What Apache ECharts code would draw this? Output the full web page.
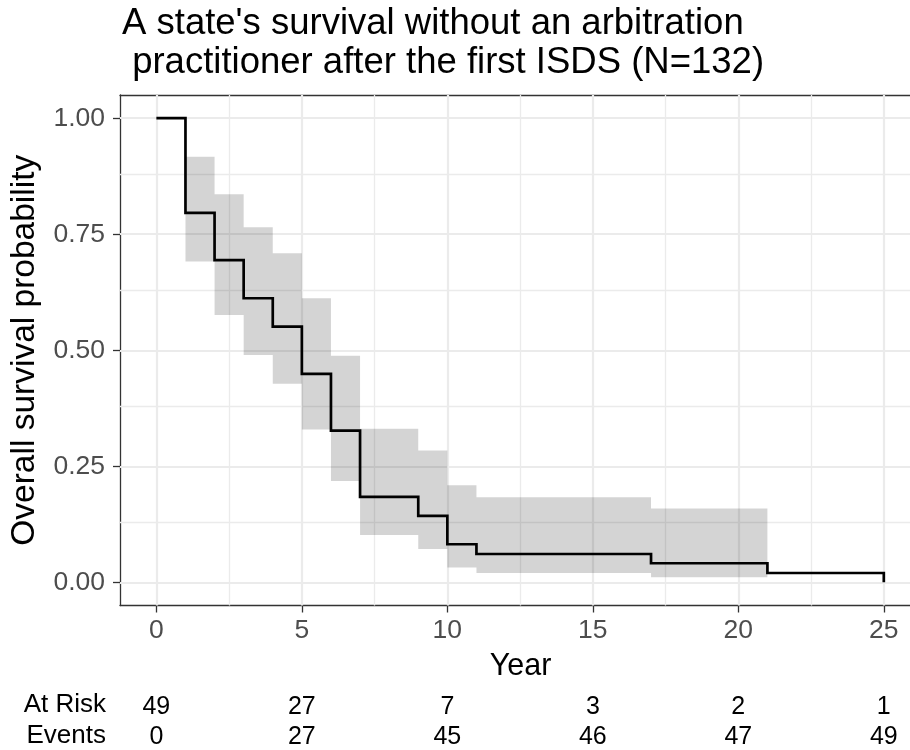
<!DOCTYPE html>
<html>
<head>
<meta charset="utf-8">
<script src="https://cdn.jsdelivr.net/npm/echarts@6/dist/echarts.min.js"></script>
<style>
  html, body { margin: 0; padding: 0; background: #ffffff; }
  #chart { width: 910px; height: 750px; }
</style>
</head>
<body>
<div id="chart"></div>
<script>
// Kaplan-Meier estimate: step times and survival after each step
const eventYear = [0, 1, 2, 3, 4, 5, 6, 7, 9, 10, 11, 17, 21, 25];
const survival  = [1.000, 0.796, 0.694, 0.612, 0.551, 0.449, 0.327, 0.184, 0.143, 0.082, 0.061, 0.041, 0.020, 0.000];
// 95% confidence band for each step interval (null = no band drawn)
const ciUpper = [null, 0.917, 0.836, 0.765, 0.709, 0.612, 0.488, 0.331, 0.284, 0.209, 0.183, 0.159, null, null];
const ciLower = [null, 0.691, 0.576, 0.490, 0.428, 0.329, 0.218, 0.102, 0.072, 0.032, 0.020, 0.011, null, null];

// Risk table
const riskYears = [0, 5, 10, 15, 20, 25];
const atRisk    = [49, 27, 7, 3, 2, 1];
const events    = [0, 27, 45, 46, 47, 49];

// Axis ticks and grid lines
const xTicks = [0, 5, 10, 15, 20, 25];
const xMinor = [2.5, 7.5, 12.5, 17.5, 22.5];
const yTicks = [0, 0.25, 0.5, 0.75, 1];
const yMinor = [0.125, 0.375, 0.625, 0.875];

const FONT = '"Liberation Sans", Arial, Helvetica, sans-serif';
// the panel runs past the right edge of the canvas, so the visible range stops short of 26.25
const X_MIN = -1.25, X_MAX = 25.9;
const FRAME = { color: '#333333', width: 1.3 };

const chart = echarts.init(document.getElementById('chart'), null, { renderer: 'canvas' });

function bandPolygon(params, api) {
  const upper = [];
  const lower = [];
  for (let i = 0; i < eventYear.length - 1; i++) {
    if (ciUpper[i] == null || ciLower[i] == null) continue;
    const x0 = eventYear[i], x1 = eventYear[i + 1];
    upper.push(api.coord([x0, ciUpper[i]]), api.coord([x1, ciUpper[i]]));
    lower.push(api.coord([x0, ciLower[i]]), api.coord([x1, ciLower[i]]));
  }
  const points = upper.concat(lower.reverse());
  return {
    type: 'polygon',
    shape: { points: points },
    style: { fill: 'rgba(0,0,0,0.17)', stroke: null }
  };
}

const gridLine = (color, width) => ({ color: color, width: width, type: 'solid' });

const markLines = []
  .concat(xMinor.map(v => ({ xAxis: v, lineStyle: gridLine('#ebebeb', 1.3) })))
  .concat(yMinor.map(v => ({ yAxis: v, lineStyle: gridLine('#ebebeb', 1.3) })))
  .concat(xTicks.map(v => ({ xAxis: v, lineStyle: gridLine('#ebebeb', 2.2) })))
  .concat(yTicks.map(v => ({ yAxis: v, lineStyle: gridLine('#ebebeb', 2.2) })));

const tableAxis = (values, offset) => ({
  type: 'value',
  gridIndex: 0,
  min: X_MIN,
  max: X_MAX,
  position: 'bottom',
  offset: offset,
  axisLine: { show: false },
  axisTick: { show: false },
  splitLine: { show: false },
  axisLabel: {
    customValues: riskYears,
    margin: 0,
    color: '#000000',
    fontFamily: FONT,
    fontSize: 25,
    formatter: v => String(values[riskYears.indexOf(v)])
  }
});

const option = {
  animation: false,
  backgroundColor: '#ffffff',
  title: {
    text: "A state's survival without an arbitration\n practitioner after the first ISDS (N=132)",
    left: 122,
    top: 4,
    padding: 0,
    textStyle: {
      fontFamily: FONT,
      fontSize: 36.5,
      fontWeight: 'normal',
      color: '#000000',
      lineHeight: 39
    }
  },
  grid: {
    left: 120,
    top: 95,
    right: 0,
    height: 510.5,
    show: true,
    backgroundColor: '#ffffff',
    borderWidth: 0
  },
  xAxis: [
    {
      type: 'value',
      min: X_MIN,
      max: X_MAX,
      name: 'Year',
      nameLocation: 'middle',
      nameGap: 46,
      nameTextStyle: { fontFamily: FONT, fontSize: 30.5, color: '#000000', padding: [0, 0, 0, 11] },
      axisLine: { show: true, onZero: false, lineStyle: FRAME },
      axisTick: {
        show: true,
        customValues: xTicks,
        length: 7,
        lineStyle: FRAME
      },
      axisLabel: {
        customValues: xTicks,
        margin: 12,
        color: '#4d4d4d',
        fontFamily: FONT,
        fontSize: 26.5
      },
      splitLine: { show: false }
    },
    tableAxis(atRisk, 89),
    tableAxis(events, 119.5),
    {
      // top edge of the panel frame
      type: 'value',
      min: X_MIN,
      max: X_MAX,
      position: 'top',
      axisLine: { show: true, onZero: false, lineStyle: FRAME },
      axisTick: { show: false },
      axisLabel: { show: false },
      splitLine: { show: false }
    }
  ],
  yAxis: {
    type: 'value',
    min: -0.05,
    max: 1.05,
    name: 'Overall survival probability',
    nameLocation: 'middle',
    nameRotate: 90,
    nameGap: 78,
    nameTextStyle: { fontFamily: FONT, fontSize: 33.5, color: '#000000' },
    axisLine: { show: true, onZero: false, lineStyle: FRAME },
    axisTick: {
      show: true,
      customValues: yTicks,
      length: 7,
      lineStyle: FRAME
    },
    axisLabel: {
      customValues: yTicks,
      margin: 15,
      color: '#4d4d4d',
      fontFamily: FONT,
      fontSize: 26.5,
      formatter: v => v.toFixed(2)
    },
    splitLine: { show: false }
  },
  graphic: [
    {
      type: 'text',
      right: 910 - 106,
      top: 706 - 14,
      style: { text: 'At Risk', fontFamily: FONT, fontSize: 26, fill: '#000000', align: 'right' }
    },
    {
      type: 'text',
      right: 910 - 106,
      top: 737 - 14,
      style: { text: 'Events', fontFamily: FONT, fontSize: 26, fill: '#000000', align: 'right' }
    }
  ],
  series: [
    {
      type: 'custom',
      name: 'ci',
      z: 2,
      silent: true,
      clip: true,
      data: [[0, 0]],
      renderItem: bandPolygon,
      markLine: {
        silent: true,
        symbol: ['none', 'none'],
        label: { show: false },
        z: 1,
        animation: false,
        data: markLines
      }
    },
    {
      type: 'line',
      name: 'survival',
      z: 3,
      step: 'end',
      symbol: 'none',
      silent: true,
      lineStyle: { color: '#000000', width: 2.7, join: 'miter' },
      data: eventYear.map((t, i) => [t, survival[i]])
    }
  ]
};

chart.setOption(option);
</script>
</body>
</html>
